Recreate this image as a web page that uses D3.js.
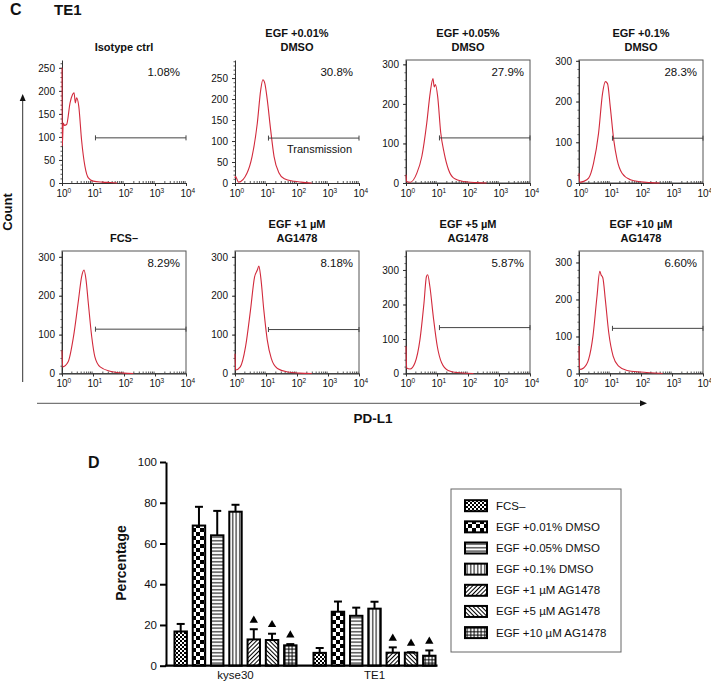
<!DOCTYPE html>
<html>
<head>
<meta charset="utf-8">
<script src="https://d3js.org/d3.v7.min.js"></script>
<style>
body{margin:0;padding:0;background:#fff;}
svg text{font-family:Arial,"Liberation Sans",sans-serif;fill:#111;}
</style>
</head>
<body>
<div id="chart"></div>
<script>
// ---- panel C : flow histograms (TE1) ----
var histTitles = [["Isotype ctrl"],["EGF +0.01%","DMSO"],["EGF +0.05%","DMSO"],["EGF +0.1%","DMSO"],
                  ["FCS\u2013"],["EGF +1 \u00b5M","AG1478"],["EGF +5 \u00b5M","AG1478"],["EGF +10 \u00b5M","AG1478"]];
var histPercents = ["1.08%","30.8%","27.9%","28.3%","8.29%","8.18%","5.87%","6.60%"];
var histYMax = [267,293,311,302,315,315,355,331];
var histYTicks = [[0,50,100,150,200,250],[0,50,100,150,200,250],[0,100,200,300],[0,100,200,300],
                  [0,100,200,300],[0,100,200,300],[0,100,200,300],[0,100,200,300]];
var histGate = [98,107,114,110,114,113,133,122];
var gateStart = 12, gateEnd = 10000;
var xTickPowers = [0,1,2,3,4];

// [intensity, count]
var histCurves = [
 [[1,250],[1.02,80],[1.1,130],[1.2,125],[1.41,127],[1.82,174],[2.19,192],[2.45,196],[2.69,174],[2.95,185],[3.47,167],[4.27,94],[5.5,36],[7.08,11],[10.2,4],[20,2],[35.5,1],[60,0]],
 [[1,12],[1.03,16],[1.3,2],[2.45,24],[3.55,63],[5.25,143],[6.76,222],[7.94,246],[9.12,238],[11,198],[14.1,127],[18.2,63],[26.3,24],[38.9,10],[81,4],[135,2],[300,0]],
 [[1,21],[1.05,4],[1.38,2],[2.24,25],[3.24,67],[4.68,152],[6.03,228],[7.41,264],[8.13,243],[8.91,249],[10.5,219],[13.2,127],[17,76],[23.4,34],[33.9,13],[70.8,4],[190,1],[400,0]],
 [[1,24],[1.05,2],[1.41,4],[2.04,12],[2.95,49],[4.27,122],[5.75,220],[7.08,249],[8.32,244],[10.2,187],[13.2,106],[17,57],[24.5,24],[45.7,8],[95.5,3],[200,1],[400,0]],
 [[1,60],[1.05,17],[1.58,30],[2.34,94],[3.39,188],[4.27,248],[5.13,266],[5.89,244],[7.08,180],[9.12,94],[11.5,43],[17,17],[35.5,6],[95.5,1],[200,0]],
 [[1,51],[1.05,9],[1.48,17],[2.19,69],[3.16,163],[4.27,248],[5.25,266],[5.89,276],[6.76,248],[8.51,163],[11,86],[14.8,39],[23.4,13],[50,4],[120,1],[300,0]],
 [[1,79],[1.05,16],[1.35,13],[1.95,31],[2.82,98],[3.8,204],[4.57,281],[5.01,286],[5.89,252],[7.59,165],[10.2,79],[14.1,31],[22.9,9],[55,2],[150,0]],
 [[1,74],[1.05,11],[1.41,15],[2.04,38],[2.82,101],[3.8,208],[4.68,276],[5.13,267],[5.89,258],[7.08,199],[9.12,110],[12.6,47],[19,20],[35.5,8],[95.5,4],[200,2],[500,0]]
];

// ---- panel D : bar chart ----
var groups = ["kyse30","TE1"];
var treatments = ["FCS\u2013","EGF +0.01% DMSO","EGF +0.05% DMSO","EGF +0.1% DMSO",
                  "EGF +1 \u00b5M AG1478","EGF +5 \u00b5M AG1478","EGF +10 \u00b5M AG1478"];
var kyse30Mean = [16.8,68.8,64,75.6,12.9,12.6,10];
var kyse30Sem  = [3.7,9.2,12,3.4,5,3.1,0.6];
var te1Mean    = [6.3,26.5,24.5,28,6.4,6.4,4.9];
var te1Sem     = [2.4,5,4,3.4,2.6,0.2,2.6];
var significant = [false,false,false,false,true,true,true];
var barTicks = [0,20,40,60,80,100];

var svg = d3.select("#chart").append("svg").attr("width",711).attr("height",683);
var defs = svg.append("defs");

function addPattern(id, w, h, draw, rot){
  var p = defs.append("pattern").attr("id",id).attr("patternUnits","userSpaceOnUse")
    .attr("width",w).attr("height",h);
  if(rot) p.attr("patternTransform","rotate("+rot+")");
  p.append("rect").attr("width",w).attr("height",h).attr("fill","#fff");
  draw(p);
}
addPattern("pat0",4,4,function(p){
  p.append("rect").attr("width",2).attr("height",2).attr("fill","#000");
  p.append("rect").attr("x",2).attr("y",2).attr("width",2).attr("height",2).attr("fill","#000");
});
addPattern("pat1",8,8,function(p){
  p.append("rect").attr("width",4).attr("height",4).attr("fill","#000");
  p.append("rect").attr("x",4).attr("y",4).attr("width",4).attr("height",4).attr("fill","#000");
});
addPattern("pat2",3.5,3.5,function(p){
  p.append("rect").attr("y",1.2).attr("width",3.5).attr("height",1).attr("fill","#000");
});
addPattern("pat3",3.5,3.5,function(p){
  p.append("rect").attr("x",1.2).attr("width",1).attr("height",3.5).attr("fill","#000");
});
addPattern("pat4",3,3,function(p){
  p.append("rect").attr("x",1).attr("width",1).attr("height",3).attr("fill","#000");
},45);
addPattern("pat5",3,3,function(p){
  p.append("rect").attr("x",1).attr("width",1).attr("height",3).attr("fill","#000");
},-45);
addPattern("pat6",3.5,3.5,function(p){
  p.append("rect").attr("x",1.2).attr("width",1).attr("height",3.5).attr("fill","#000");
  p.append("rect").attr("y",1.2).attr("width",3.5).attr("height",1).attr("fill","#000");
});

// headers
svg.append("text").attr("x",10).attr("y",15).attr("font-size",16).attr("font-weight","bold").text("C");
svg.append("text").attr("x",54).attr("y",15).attr("font-size",15).attr("font-weight","bold").text("TE1");

// histogram grid
var colX = [62,235,406,579], rowTop = [60,251], rowBottom = [183,373.5], panelW = 124;

histCurves.forEach(function(curve,i){
  var r = Math.floor(i/4), c = i%4;
  var h = rowBottom[r]-rowTop[r];
  var g = svg.append("g").attr("transform","translate("+colX[c]+","+rowTop[r]+")");
  var x = d3.scaleLog().domain([1,1e4]).range([0,panelW]);
  var y = d3.scaleLinear().domain([0,histYMax[i]]).range([h,0]);

  // frame for most panels
  if(i>=2){
    g.append("rect").attr("width",panelW).attr("height",h)
      .attr("fill","none").attr("stroke","#555").attr("stroke-width",1);
  }

  var major = histYTicks[i];
  var minorStep = major[1]-major[0] >= 100 ? 20 : 10;
  var yMinor = g.append("g").call(d3.axisLeft(y).tickValues(d3.range(0,histYMax[i],minorStep))
      .tickSize(1.5).tickSizeOuter(0).tickFormat(""));
  yMinor.select(".domain").remove();
  yMinor.selectAll("line").attr("stroke","#555");
  var yAx = g.append("g").call(d3.axisLeft(y).tickValues(major).tickSize(3).tickSizeOuter(0).tickPadding(4));
  yAx.select(".domain").attr("stroke","#333");
  yAx.selectAll("line").attr("stroke","#333");
  yAx.selectAll("text").attr("font-size",10).attr("font-family","Arial, Liberation Sans, sans-serif").attr("fill","#111");

  // x axis (log) with minor ticks
  var minorX = [];
  xTickPowers.slice(0,4).forEach(function(p){ for(var k=2;k<10;k++) minorX.push(k*Math.pow(10,p)); });
  var xMinor = g.append("g").attr("transform","translate(0,"+h+")")
    .call(d3.axisTop(x).tickValues(minorX).tickSize(2).tickSizeOuter(0).tickFormat(""));
  xMinor.select(".domain").remove();
  xMinor.selectAll("line").attr("stroke","#555");
  var xAx = g.append("g").attr("transform","translate(0,"+h+")")
    .call(d3.axisBottom(x).tickValues(xTickPowers.map(function(p){return Math.pow(10,p);}))
      .tickSize(3).tickSizeOuter(0).tickFormat(""));
  xAx.select(".domain").attr("stroke","#333");
  xAx.selectAll("line").attr("stroke","#333");
  xTickPowers.forEach(function(p){
    var t = g.append("text").attr("x",x(Math.pow(10,p))-5.6).attr("y",h+13.5).attr("font-size",10);
    t.append("tspan").text("10");
    t.append("tspan").attr("dy",-4).attr("font-size",6.5).text(p);
  });

  // histogram trace
  var line = d3.line().x(function(d){return x(d[0]);}).y(function(d){return y(d[1]);})
    .curve(d3.curveMonotoneX);
  g.append("path").datum(curve).attr("d",line).attr("fill","none")
    .attr("stroke","#d22a3c").attr("stroke-width",1.1);

  // gate marker
  var gy = y(histGate[i]);
  g.append("line").attr("x1",x(gateStart)).attr("x2",x(gateEnd)).attr("y1",gy).attr("y2",gy)
    .attr("stroke","#444").attr("stroke-width",1);
  [gateStart,gateEnd].forEach(function(v){
    g.append("line").attr("x1",x(v)).attr("x2",x(v)).attr("y1",gy-2.5).attr("y2",gy+2.5)
      .attr("stroke","#444").attr("stroke-width",1);
  });
  if(i==1){
    g.append("text").attr("x",panelW-7).attr("y",gy+15).attr("text-anchor","end")
      .attr("font-size",11).text("Transmission");
  }

  g.append("text").attr("x",panelW-6).attr("y",16).attr("text-anchor","end")
    .attr("font-size",11.5).text(histPercents[i]);

  var lines = histTitles[i];
  lines.forEach(function(s,k){
    g.append("text").attr("x",panelW/2).attr("y",-9.5-(lines.length-1-k)*13.5)
      .attr("text-anchor","middle").attr("font-size",11).attr("font-weight","bold").text(s);
  });
});

// Count / PD-L1 arrows
function arrowHead(x,y,dir){
  var pts = dir=="up" ? [[x,y],[x-3,y+7],[x+3,y+7]] : [[x,y],[x-7,y-3],[x-7,y+3]];
  svg.append("path").attr("d","M"+pts.map(function(p){return p.join(",");}).join("L")+"Z").attr("fill","#111");
}
svg.append("line").attr("x1",22.7).attr("x2",22.7).attr("y1",382).attr("y2",98).attr("stroke","#333").attr("stroke-width",1);
arrowHead(22.7,94,"up");
svg.append("text").attr("transform","translate(12,212) rotate(-90)").attr("text-anchor","middle")
  .attr("font-size",13).attr("font-weight","bold").text("Count");
svg.append("line").attr("x1",37).attr("x2",642).attr("y1",403.3).attr("y2",403.3).attr("stroke","#555").attr("stroke-width",1);
arrowHead(647,403.3,"right");
svg.append("text").attr("x",373).attr("y",423).attr("text-anchor","middle")
  .attr("font-size",13.5).attr("font-weight","bold").text("PD-L1");

// ---- bar chart ----
svg.append("text").attr("x",88).attr("y",468).attr("font-size",16).attr("font-weight","bold").text("D");

var x0 = d3.scaleBand().domain(groups).range([166,444]).paddingInner(0.08).paddingOuter(0.04);
var x1 = d3.scaleBand().domain(treatments).range([0,x0.bandwidth()]).paddingInner(0.32).paddingOuter(0.16);
var yB = d3.scaleLinear().domain([0,100]).range([665.7,462]);

var barData = [];
groups.forEach(function(gname,gi){
  var m = gi==0 ? kyse30Mean : te1Mean, s = gi==0 ? kyse30Sem : te1Sem;
  treatments.forEach(function(t,ti){
    barData.push({group:gname, t:t, idx:ti, mean:m[ti], sem:s[ti], sig:significant[ti]});
  });
});

var bars = svg.append("g");
bars.selectAll("line.err").data(barData).enter().append("line")
  .attr("x1",function(d){return x0(d.group)+x1(d.t)+x1.bandwidth()/2;})
  .attr("x2",function(d){return x0(d.group)+x1(d.t)+x1.bandwidth()/2;})
  .attr("y1",function(d){return yB(d.mean);})
  .attr("y2",function(d){return yB(d.mean+d.sem);})
  .attr("stroke","#000").attr("stroke-width",2);
bars.selectAll("line.cap").data(barData).enter().append("line")
  .attr("x1",function(d){return x0(d.group)+x1(d.t)+x1.bandwidth()/2-4;})
  .attr("x2",function(d){return x0(d.group)+x1(d.t)+x1.bandwidth()/2+4;})
  .attr("y1",function(d){return yB(d.mean+d.sem);})
  .attr("y2",function(d){return yB(d.mean+d.sem);})
  .attr("stroke","#000").attr("stroke-width",2);
bars.selectAll("rect").data(barData).enter().append("rect")
  .attr("x",function(d){return x0(d.group)+x1(d.t);})
  .attr("y",function(d){return yB(d.mean);})
  .attr("width",x1.bandwidth())
  .attr("height",function(d){return yB(0)-yB(d.mean);})
  .attr("fill",function(d){return "url(#pat"+d.idx+")";})
  .attr("stroke","#000").attr("stroke-width",2);
bars.selectAll("path.tri").data(barData.filter(function(d){return d.sig;})).enter().append("path")
  .attr("d",d3.symbol().type(d3.symbolTriangle).size(30))
  .attr("transform",function(d){
    return "translate("+(x0(d.group)+x1(d.t)+x1.bandwidth()/2)+","+(yB(d.mean+d.sem)-9)+")";})
  .attr("fill","#000");

var yAxB = svg.append("g").attr("transform","translate(166,0)")
  .call(d3.axisLeft(yB).tickValues(barTicks).tickSize(6).tickSizeOuter(0).tickPadding(3));
yAxB.selectAll("line").attr("stroke","#000").attr("stroke-width",2);
yAxB.select(".domain").attr("stroke","#000").attr("stroke-width",2);
yAxB.selectAll("text").attr("font-size",11.5).attr("font-family","Arial, Liberation Sans, sans-serif").attr("fill","#111");
var lastBarEnd = x0(groups[1])+x1(treatments[6])+x1.bandwidth()+2;
svg.append("line").attr("x1",165).attr("x2",lastBarEnd).attr("y1",yB(0)).attr("y2",yB(0))
  .attr("stroke","#000").attr("stroke-width",2.2);
groups.forEach(function(gname){
  svg.append("text").attr("x",x0(gname)+x0.bandwidth()/2).attr("y",679).attr("text-anchor","middle")
    .attr("font-size",11.5).text(gname);
});
svg.append("text").attr("transform","translate(126,563) rotate(-90)").attr("text-anchor","middle")
  .attr("font-size",14).attr("font-weight","bold").text("Percentage");

// legend
var leg = svg.append("g");
leg.append("rect").attr("x",451).attr("y",489).attr("width",170).attr("height",163)
  .attr("fill","#fff").attr("stroke","#666").attr("stroke-width",1);
treatments.forEach(function(t,ti){
  var cy = 505.7 + ti*21.15;
  leg.append("rect").attr("x",465).attr("y",cy-5.5).attr("width",22).attr("height",11)
    .attr("fill","url(#pat"+ti+")").attr("stroke","#000").attr("stroke-width",2);
  leg.append("text").attr("x",496).attr("y",cy+4).attr("font-size",11.5).text(t);
});
</script>
</body>
</html>
